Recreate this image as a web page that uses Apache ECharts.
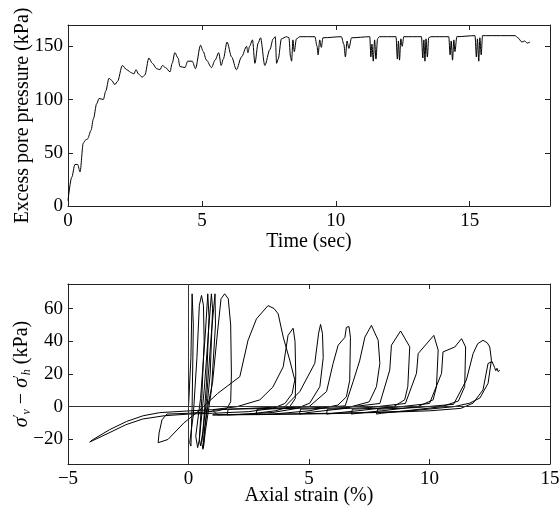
<!DOCTYPE html>
<html><head><meta charset="utf-8">
<script src="https://cdn.jsdelivr.net/npm/echarts@6/dist/echarts.min.js"></script>
<style>html,body{margin:0;padding:0;background:#fff}#c{width:560px;height:512px}</style>
</head><body><div id="c"></div>
<script>
// ---- Top panel: excess pore pressure vs time ----
const timeSec = [0.00,0.14,0.26,0.36,0.45,0.57,0.66,0.73,0.86,0.95,1.07,1.16,1.32,1.41,1.53,1.63,1.75,1.85,2.03,2.19,2.38,2.46,2.54,2.63,2.77,2.87,3.02,3.15,3.31,3.43,3.53,3.64,3.81,3.89,3.99,4.11,4.18,4.37,4.47,4.64,4.76,4.95,5.05,5.17,5.36,5.49,5.63,5.72,5.80,5.94,6.11,6.29,6.48,6.67,6.72,6.78,6.89,6.98,7.10,7.19,7.35,7.54,7.66,7.74,7.79,7.85,7.97,8.16,8.25,8.31,8.35,8.40,8.45,8.53,8.66,9.22,9.30,9.34,9.40,9.46,9.52,10.21,10.30,10.36,10.42,10.49,10.59,11.27,11.31,11.35,11.40,11.45,11.50,11.56,11.62,12.25,12.30,12.34,12.38,12.43,12.48,12.54,13.20,13.25,13.29,13.33,13.37,13.42,13.47,13.55,14.22,14.27,14.31,14.36,14.41,14.45,14.52,15.20,15.25,15.29,15.34,15.38,15.43,15.48,15.60,16.70,16.80,16.95,17.05,17.15,17.25];
const porePressure = [5,27,39,39,32,59,62,63,71,82,96,101,100,108,120,118,114,117,132,128,125,124,128,124,121,123,139,134,129,128,132,130,126,134,144,139,131,130,136,136,129,151,145,137,130,137,144,132,138,154,140,128,140,150,144,150,156,134,153,158,132,147,157,159,134,138,157,159,158,140,136,156,145,157,159,159,150,142,156,149,158,159,152,140,155,148,158,159,140,152,136,156,138,157,159,159,138,155,137,157,150,159,159,139,156,136,157,140,158,159,159,142,155,137,156,145,159,160,140,157,136,158,142,160,160,160,158,154,155,153,154];

// ---- Bottom panel: deviator stress vs axial strain ----
const axialStrain = [0.0,0.1,0.15,0.2,0.15,0.1,0.05,0.2,0.35,0.45,0.54,0.62,0.65,0.55,0.45,0.38,0.3,0.5,0.7,0.8,0.85,0.75,0.6,0.5,0.45,0.65,0.85,0.95,1.0,0.9,0.7,0.6,0.55,0.75,0.95,1.1,1.12,0.95,0.7,0.62,0.65,0.8,
 1.0,1.2,1.35,1.5,1.65,1.75,1.78,1.75,1.6,1.2,0.5,0.0,-0.9,-1.1,-1.22,-1.26,-0.85,-0.2,0.47,1.2,2.13,2.47,2.82,3.3,3.55,3.72,3.93,4.2,4.41,4.3,4.0,3.5,2.5,1.0,0.0,-1.0,-1.9,-2.6,-3.3,-4.1,-4.15,-4.0,-3.27,-2.57,-1.88,-1.19,0.2,1.0,2.0,2.96,3.5,3.93,4.13,4.34,4.42,4.45,4.43,4.2,3.6,2.5,1.2,1.0,2.5,4.0,
 4.62,5.24,5.4,5.48,5.56,5.59,5.45,5.03,4.5,3.5,2.0,1.6,1.65,3.5,5.0,
 5.73,6.0,6.21,6.49,6.55,6.66,6.72,6.69,6.55,6.2,5.0,3.5,2.8,2.85,5.0,6.5,
 6.83,7.1,7.32,7.59,7.87,7.94,7.8,7.5,6.5,5.0,4.6,4.65,6.5,7.94,
 8.35,8.42,8.8,9.18,9.1,8.97,8.5,7.0,6.0,5.73,5.76,7.5,9.0,
 9.46,9.53,10.18,10.36,10.29,10.15,9.5,8.0,7.0,6.76,6.8,8.5,10.0,
 10.5,10.56,11.05,11.33,11.5,11.46,11.2,10.5,9.0,8.0,7.8,7.85,9.5,11.0,
 11.53,11.81,12.0,12.22,12.4,12.5,12.57,12.43,12.09,11.67,11.0,9.0,6.0,3.0,1.0,
 3.0,6.0,8.0,10.0,11.3,11.81,12.22,12.43,12.6,12.7,12.75,12.8,12.85,12.92];
const stressDiff = [0,30,69,50,0,-24,-22,-5,30,62,68,62,40,5,-20,-25,-18,5,45,69,55,15,-15,-24,-20,10,50,69,60,20,-10,-26,-22,5,45,69,50,10,-15,-25,-15,0,
 15,45,66,69,66,50,20,3,-1,-2.5,-3.5,-4,-4.5,-8,-16,-22,-20,-10,-2,8,18.4,40.6,53.7,61.8,60,56.8,42.6,28.5,16.4,8,2,-1,-3,-4,-4.5,-5.5,-7.5,-11,-16,-21.6,-22.5,-20.4,-14,-9,-5.5,-3.6,-2.4,-1.8,0,4.2,12,24.4,43.6,48,40,20,5,0,-2.5,-4.5,-5,-2,-1,0,
 9.3,26.5,45,50.3,44.6,30,12.3,2.2,-1,-3.5,-4.8,-5,-1.5,-1,0,
 9.3,26.5,37.6,42.4,48.5,49,42.4,16.2,6,1,-2.5,-4.5,-4.8,-1.5,-0.8,0.5,
 15.3,28,42.6,49.7,40.6,26.5,12.3,3,-1,-3.5,-4.5,-1.5,-0.5,2,
 22.4,37.6,46.3,36.6,12.3,4.2,0,-2.5,-4,-4.5,-1.5,-0.5,2,
 20.4,32.5,43.6,34.6,12.3,4.2,0,-2.5,-4,-4.5,-1.5,-0.5,2,
 20.4,33.5,36.5,41.6,36.5,12.3,3.5,0,-2.5,-4,-4.5,-1.5,-0.5,1.5,
 16.3,32.5,38.5,40.6,39,36.5,28.5,14.3,5.3,2.2,0,-2.8,-4.2,-4.8,-5,
 -4.6,-4,-3.5,-2.5,-1,2.2,10.3,26.5,27.5,24,22,23.5,21.4,22.4];

const timeTicks = [0,5,10,15];
const pressureTicks = [0,50,100,150];
const strainTicks = [-5,0,5,10,15];
const stressTicks = [-20,0,20,40,60];

const FONT = 'Liberation Serif';
const minusFmt = v => String(v).replace('-', '\u2212');

function axisPair(kind, grid, min, max, ticks, extra) {
  const isX = kind === 'x';
  const base = {
    type: 'value', gridIndex: grid, min: min, max: max,
    splitLine: {show: false},
    axisLine: {show: true, onZero: false, lineStyle: {color: '#222', width: 1}},
    axisTick: {show: true, inside: true, length: 5, customValues: ticks, lineStyle: {color: '#222'}},
  };
  const main = Object.assign({}, base, {
    position: isX ? 'bottom' : 'left',
    nameMoveOverlap: false,
    axisLabel: {show: true, customValues: ticks, fontFamily: FONT, fontSize: 19, color: '#000',
      margin: isX ? 6 : 5, formatter: minusFmt},
  }, extra || {});
  const mirror = Object.assign({}, base, {
    position: isX ? 'top' : 'right',
    axisLabel: {show: false},
  });
  return [main, mirror];
}

const nameStyle = {fontFamily: FONT, fontSize: 20, color: '#000'};

const x0 = axisPair('x', 0, 0, 18, timeTicks, {name: 'Time (sec)', nameLocation: 'middle', nameGap: 26, nameTextStyle: nameStyle});
const y0 = axisPair('y', 0, 0, 170, pressureTicks, {name: 'Excess pore pressure (kPa)', nameLocation: 'middle', nameGap: 35, nameTextStyle: nameStyle});
const x1 = axisPair('x', 1, -5, 15, strainTicks, {name: 'Axial strain (%)', nameLocation: 'middle', nameGap: 22, nameTextStyle: nameStyle});
const y1 = axisPair('y', 1, -35, 75, stressTicks, {
  name: '{i|σ}{p|′}{s|v} − {i|σ}{p|′}{s|h} (kPa)', nameLocation: 'middle', nameGap: 35,
  nameTextStyle: Object.assign({}, nameStyle, {lineHeight: 22, rich: {
    i: {fontFamily: FONT, fontSize: 20, fontStyle: 'italic', color: '#000', lineHeight: 22, verticalAlign: 'middle'},
    p: {fontFamily: FONT, fontSize: 13, color: '#000', lineHeight: 22, verticalAlign: 'top'},
    s: {fontFamily: FONT, fontSize: 12, fontStyle: 'italic', color: '#000', lineHeight: 22, verticalAlign: 'bottom'}
  }})
});

const topData = timeSec.map((t, i) => [t, porePressure[i]]);
const botData = axialStrain.map((x, i) => [x, stressDiff[i]]);

const chart = echarts.init(document.getElementById('c'), null, {renderer: 'canvas'});
chart.setOption({
  animation: false,
  backgroundColor: '#fff',
  grid: [
    {left: 68, top: 25, width: 482, height: 181, containLabel: false, outerBoundsMode: 'none'},
    {left: 68, top: 284, width: 482, height: 180, containLabel: false, outerBoundsMode: 'none'}
  ],
  xAxis: [x0[0], x0[1], x1[0], x1[1]],
  yAxis: [y0[0], y0[1], y1[0], y1[1]],
  series: [
    {type: 'line', xAxisIndex: 0, yAxisIndex: 0, data: topData, showSymbol: false, symbol: 'none',
      smooth: 0.3, smoothMonotone: 'x',
      lineStyle: {color: '#000', width: 1}},
    {type: 'line', xAxisIndex: 2, yAxisIndex: 2, data: botData, showSymbol: false, symbol: 'none',
      lineStyle: {color: '#000', width: 1},
      markLine: {silent: true, symbol: 'none', animation: false, label: {show: false},
        lineStyle: {color: '#333', width: 1, type: 'solid'},
        data: [{yAxis: 0}, {xAxis: 0}]}}
  ]
});
</script></body></html>
